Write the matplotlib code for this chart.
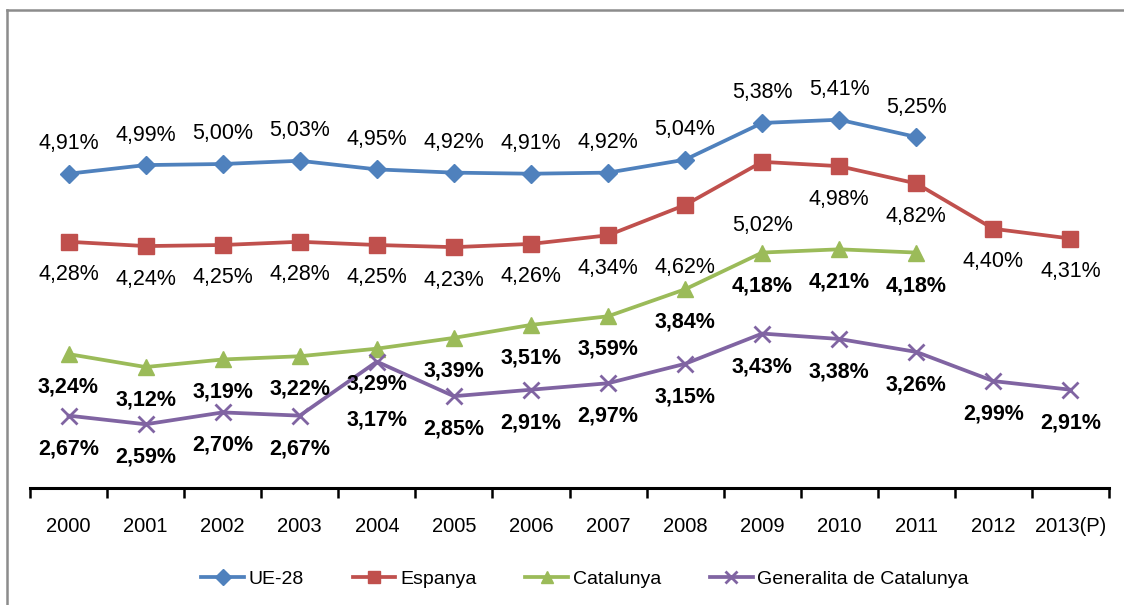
import matplotlib
matplotlib.use("Agg")
import matplotlib.pyplot as plt
from matplotlib.lines import Line2D

plt.rcParams['font.family'] = ['Liberation Sans', 'DejaVu Sans']

# data
years = ['2000', '2001', '2002', '2003', '2004', '2005', '2006', '2007',
         '2008', '2009', '2010', '2011', '2012', '2013(P)']
ue28 = [4.91, 4.99, 5.00, 5.03, 4.95, 4.92, 4.91, 4.92, 5.04, 5.38, 5.41, 5.25]
espanya = [4.28, 4.24, 4.25, 4.28, 4.25, 4.23, 4.26, 4.34, 4.62, 5.02, 4.98,
           4.82, 4.40, 4.31]
catalunya = [3.24, 3.12, 3.19, 3.22, 3.29, 3.39, 3.51, 3.59, 3.84, 4.18, 4.21,
             4.18]
generalitat = [2.67, 2.59, 2.70, 2.67, 3.17, 2.85, 2.91, 2.97, 3.15, 3.43,
               3.38, 3.26, 2.99, 2.91]

W, H = 1124, 605
fig = plt.figure(figsize=(W / 100, H / 100), dpi=100)
ax = fig.add_axes([30 / W, 117 / H, (1109 - 30) / W, (549 - 117) / H])

series = [
    ('UE-28', ue28, '#4F81BD', 'D', 9.5, 'normal', 30),
    ('Espanya', espanya, '#C0504D', 's', 11, 'normal', -33),
    ('Catalunya', catalunya, '#9BBB59', '^', 11, 'bold', -33),
    ('Generalita de Catalunya', generalitat, '#8064A2', 'x', 11, 'bold', -33),
]
# a few labels were moved by hand in the original
moved = {('Espanya', 8): -62, ('Espanya', 9): -64,
         ('Catalunya', 4): -35, ('Generalita de Catalunya', 4): -58}

for name, vals, col, mk, ms, wt, off in series:
    xs = list(range(len(vals)))
    ax.plot(xs, vals, color=col, lw=2.7, marker=mk, markersize=ms,
            markeredgewidth=2 if mk == 'x' else 1, label=name)
    for i, v in enumerate(vals):
        dy = moved.get((name, i), off)
        ax.annotate(('%.2f%%' % v).replace('.', ','), (i, v),
                    xytext=(0, dy), textcoords='offset pixels',
                    ha='center', va='center', fontsize=15.5, fontweight=wt,
                    color='black')

ax.set_xlim(-0.5, len(years) - 0.5)
ax.set_ylim(2.0, 6.0)
ax.set_yticks([])
for s in ['top', 'right', 'left']:
    ax.spines[s].set_visible(False)
ax.spines['bottom'].set_linewidth(2.2)
ax.spines['bottom'].set_color('black')

ax.set_xticks(range(len(years)))
ax.set_xticklabels(years, fontsize=14.5)
ax.set_xticks([i - 0.5 for i in range(len(years) + 1)], minor=True)
ax.tick_params(axis='x', which='major', length=0, pad=21)
ax.tick_params(axis='x', which='minor', length=7, width=1.8, direction='out',
               color='black')

ax.legend(loc='center', bbox_to_anchor=(585 / W, 26 / H),
          bbox_transform=fig.transFigure, ncol=4, frameon=False,
          fontsize=14, handlelength=2.2, handletextpad=0.25,
          columnspacing=2.5, markerscale=0.85)

# gray chart border (left and top edges visible)
fig.add_artist(Line2D([7 / W, 7 / W], [0, 1 - 10 / H], color='#8C8C8C',
                      lw=1.8, transform=fig.transFigure))
fig.add_artist(Line2D([7 / W, 1], [1 - 10 / H, 1 - 10 / H], color='#8C8C8C',
                      lw=1.8, transform=fig.transFigure))

fig.savefig('out.png', dpi=100)
